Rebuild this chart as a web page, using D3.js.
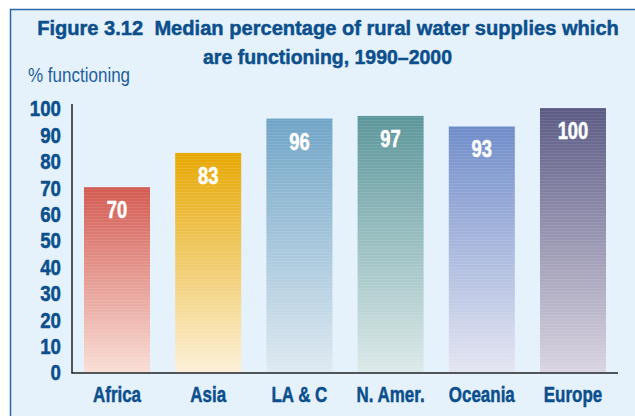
<!DOCTYPE html>
<html>
<head>
<meta charset="utf-8">
<script src="https://cdn.jsdelivr.net/npm/d3@7"></script>
<style>
  body { margin: 0; background: #fff; }
  svg { display: block; }
  text { font-family: "Liberation Sans", Arial, sans-serif; }
</style>
</head>
<body>
<div id="chart"></div>
<script>
// rural water supplies chart

const regions = ["Africa", "Asia", "LA & C", "N. Amer.", "Oceania", "Europe"]
const functioning = [70, 83, 96, 97, 93, 100]
const yTicks = [0, 10, 20, 30, 40, 50, 60, 70, 80, 90, 100]
const topColours = ["#d35a51", "#e6a700", "#6fa4c6", "#5b969a", "#6f8cc9", "#5a5a84"]
const bottomColours = ["#f8ded6", "#fcf0d8", "#dee9f1", "#dce9e9", "#e4e5f2", "#d9d4e1"]

const width = 635
const height = 416

// no condensed face installed, so squeeze the glyphs instead
function squeeze(sel, factor)
{
    sel.each(function() {
        var w = this.getComputedTextLength()
        d3.select(this)
            .attr("textLength", w * factor)
            .attr("lengthAdjust", "spacingAndGlyphs")
    })
}

// title lines: scale the whole line to a set width round its centre
function fitTitle(sel, cx, cy, targetW)
{
    var w = sel.node().getComputedTextLength()
    sel.attr("x", 0).attr("y", 0)
        .attr("transform", "translate(" + cx + "," + cy + ") scale(" + (targetW / w) + ",1)")
}

// a touch of stroke to get closer to the heavy condensed face
function heavy(sel, colour)
{
    sel.attr("stroke", colour).attr("stroke-width", 0.5)
}

const svg = d3.select("#chart")
    .append("svg")
    .attr("width", width)
    .attr("height", height)

const defs = svg.append("defs")

regions.forEach(function(r, i) {
    const g = defs.append("linearGradient")
        .attr("id", "grad" + i)
        .attr("x1", 0).attr("y1", 0)
        .attr("x2", 0).attr("y2", 1)
    g.append("stop").attr("offset", "0%").attr("stop-color", topColours[i])
    g.append("stop").attr("offset", "100%").attr("stop-color", bottomColours[i])
})

// faint horizontal stripes over the bars
const pat = defs.append("pattern")
    .attr("id", "stripes")
    .attr("patternUnits", "userSpaceOnUse")
    .attr("width", 10).attr("height", 3)
pat.append("rect")
    .attr("width", 10).attr("height", 1)
    .attr("fill", "#fff")
    .attr("opacity", 0.09)

// panel
svg.append("rect")
    .attr("x", 10.5).attr("y", 9.5)
    .attr("width", 640).attr("height", 420)
    .attr("fill", "#e6f2fb")
    .attr("stroke", "#2a68a6")
    .attr("stroke-width", 1.5)

svg.append("text")
    .attr("text-anchor", "middle")
    .attr("fill", "#0b4f8c")
    .attr("font-weight", "bold")
    .attr("font-size", 21)
    .style("white-space", "pre")
    .text("Figure 3.12  Median percentage of rural water supplies which")
    .call(fitTitle, 328, 35, 582)
    .call(heavy, "#0b4f8c")

svg.append("text")
    .attr("text-anchor", "middle")
    .attr("fill", "#0b4f8c")
    .attr("font-weight", "bold")
    .attr("font-size", 21)
    .text("are functioning, 1990\u20132000")
    .call(fitTitle, 327.5, 64, 249)
    .call(heavy, "#0b4f8c")

svg.append("text")
    .attr("x", 28).attr("y", 82)
    .attr("fill", "#1d5f9c")
    .attr("font-size", 20)
    .text("% functioning")
    .call(squeeze, 0.85)

const y = d3.scaleLinear()
    .domain([0, 100])
    .range([372, 108])

const x = d3.scaleBand()
    .domain(regions)
    .range([84, 606])
    .paddingInner(0.276)
    .paddingOuter(0)

const bars = svg.append("g")
bars.selectAll("rect.bar")
    .data(functioning)
    .join("rect")
    .attr("class", "bar")
    .attr("x", (d, i) => x(regions[i]))
    .attr("y", d => y(d))
    .attr("width", x.bandwidth())
    .attr("height", d => y(0) - y(d))
    .attr("fill", (d, i) => "url(#grad" + i + ")")
bars.selectAll("rect.stripe")
    .data(functioning)
    .join("rect")
    .attr("class", "stripe")
    .attr("x", (d, i) => x(regions[i]))
    .attr("y", d => y(d))
    .attr("width", x.bandwidth())
    .attr("height", d => y(0) - y(d))
    .attr("fill", "url(#stripes)")

bars.selectAll("text")
    .data(functioning)
    .join("text")
    .attr("x", (d, i) => x(regions[i]) + x.bandwidth() / 2)
    .attr("y", d => y(d) + 31)
    .attr("text-anchor", "middle")
    .attr("fill", "#fff")
    .attr("font-weight", "bold")
    .attr("font-size", 24.5)
    .text(d => d)
    .call(squeeze, 0.75)
    .call(heavy, "#fff")

// y axis
const yAxis = svg.append("g")
    .attr("transform", "translate(72,0)")
    .call(d3.axisLeft(y).tickValues(yTicks).tickSize(0).tickPadding(11))
yAxis.select(".domain").remove()
yAxis.selectAll("text")
    .attr("fill", "#0b4f8c")
    .attr("font-weight", "bold")
    .attr("font-size", 22)
    .attr("dy", "0.36em")
    .call(squeeze, 0.85)
    .call(heavy, "#0b4f8c")

svg.append("line")
    .attr("x1", 72).attr("x2", 72)
    .attr("y1", 104).attr("y2", 373)
    .attr("stroke", "#222")
    .attr("stroke-width", 1.5)

// x axis
const xAxis = svg.append("g")
    .attr("transform", "translate(0,373)")
    .call(d3.axisBottom(x).tickSize(0).tickPadding(13))
xAxis.select(".domain").remove()
xAxis.selectAll("text")
    .attr("fill", "#0b4f8c")
    .attr("font-weight", "bold")
    .attr("font-size", 22)
    .call(squeeze, 0.77)
    .call(heavy, "#0b4f8c")

svg.append("line")
    .attr("x1", 71.25).attr("x2", 618)
    .attr("y1", 373).attr("y2", 373)
    .attr("stroke", "#222")
    .attr("stroke-width", 1.5)
</script>
</body>
</html>
